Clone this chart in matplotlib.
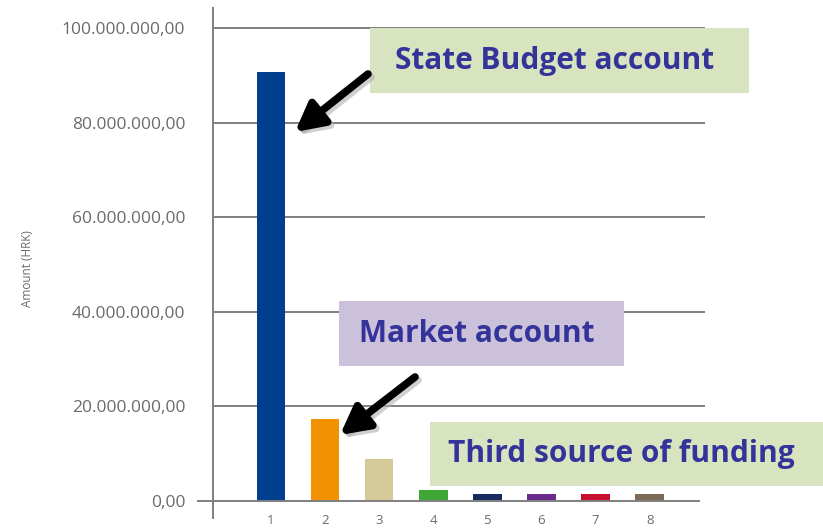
import matplotlib
matplotlib.use("Agg")

import matplotlib.pyplot as plt
from matplotlib.patches import FancyBboxPatch, FancyArrowPatch
from matplotlib.ticker import FuncFormatter

# podaci procitani sa slike
kategorije = ["1", "2", "3", "4", "5", "6", "7", "8"]
iznosi = [90.7e6, 17.3e6, 8.9e6, 2.3e6, 1.5e6, 1.5e6, 1.5e6, 1.4e6]
boje = ["#003e8f", "#f39200", "#d5c99a", "#3fa535",
        "#172b5e", "#6a2b8c", "#c8102e", "#7a6a56"]
y_ticks = [0, 20e6, 40e6, 60e6, 80e6, 100e6]

oznake = ["State Budget account", "Market account", "Third source of funding"]
boje_oznaka = ["#d8e4bf", "#ccc1da", "#d8e4bf"]

siva = "#7f7f7f"
tekst_siva = "#6b6b6b"
plava_tekst = "#333399"


def hr_format(v, pos):
    s = "{:,.2f}".format(v)
    return s.replace(",", "X").replace(".", ",").replace("X", ".")


fig = plt.figure(figsize=(8.23, 5.28), dpi=100)
ax = fig.add_axes([0.2588, 0.0189, 0.5978, 0.9659])

x = list(range(1, len(kategorije) + 1))
ax.bar(x, iznosi, width=0.53, color=boje, zorder=3)

ax.set_xlim(-0.07, 9.02)
ax.set_ylim(-3.6e6, 104.2e6)

for v in y_ticks[1:]:
    ax.axhline(v, color=siva, lw=1.4, zorder=1)
ax.axhline(0, xmin=-0.03, xmax=0.988, color=siva, lw=1.4, zorder=4, clip_on=False)

ax.set_yticks(y_ticks)
ax.yaxis.set_major_formatter(FuncFormatter(hr_format))
ax.tick_params(axis="y", length=0, pad=20, labelsize=12.5, labelcolor=tekst_siva)
for lbl in ax.get_yticklabels():
    lbl.set_fontfamily("Open Sans")
ax.set_xticks(x)
ax.set_xticklabels(kategorije)
ax.tick_params(axis="x", length=0, pad=-3, labelsize=9.5, labelcolor=tekst_siva)
for lbl in ax.get_xticklabels():
    lbl.set_fontfamily("Open Sans")

for s in ["top", "right", "bottom"]:
    ax.spines[s].set_visible(False)
ax.spines["left"].set_color(siva)
ax.spines["left"].set_linewidth(1.4)

fig.text(0.034, 0.492, "Amount (HRK)", rotation=90, ha="center", va="center",
         fontsize=8.5, color=tekst_siva, family="Open Sans")

# okviri s tekstom (pikseli -> koordinate slike)
W, H = 823.0, 528.0
okviri = [(370, 28, 749, 93), (339, 301, 624, 366), (430, 422, 823, 486)]
for (x0, y0, x1, y1), tekst, boja in zip(okviri, oznake, boje_oznaka):
    fig.patches.append(FancyBboxPatch(
        (x0 / W, 1 - y1 / H), (x1 - x0) / W, (y1 - y0) / H,
        boxstyle="square,pad=0", transform=fig.transFigure,
        facecolor=boja, edgecolor="none", zorder=5))
    fig.text((x0 + x1) / 2 / W - 0.006, 1 - (y0 + y1) / 2 / H, tekst,
             ha="center", va="center", fontsize=21.5, fontweight="bold",
             color=plava_tekst, family="Open Sans", zorder=6)

# strelice
strelice = [((368, 74), (295, 132)), ((415, 377), (340, 435))]
for (tx, ty), (hx, hy) in strelice:
    for dx, dy, c in [(3, 3, "#b0b0b0"), (0, 0, "black")]:
        fig.add_artist(FancyArrowPatch(
            ((tx + dx) / W, 1 - (ty + dy) / H), ((hx + dx) / W, 1 - (hy + dy) / H),
            transform=fig.transFigure, arrowstyle="-|>,head_length=17,head_width=9",
            mutation_scale=1, lw=5.5, color=c, alpha=0.6 if dx else 1,
            shrinkA=0, shrinkB=0, zorder=7))

plt.savefig("out.png", dpi=100)
